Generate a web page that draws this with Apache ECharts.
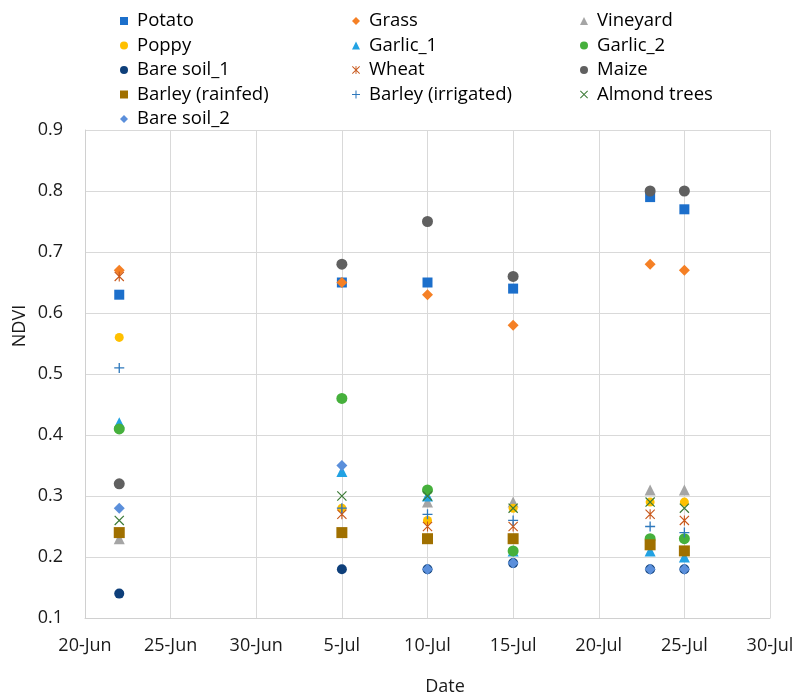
<!DOCTYPE html>
<html>
<head>
<meta charset="utf-8">
<script src="https://cdn.jsdelivr.net/npm/echarts@6/dist/echarts.min.js"></script>
<style>
  html, body { margin: 0; padding: 0; background: #fff; }
  #chart { width: 798px; height: 697px; }
</style>
</head>
<body>
<div id="chart"></div>
<script>
// Acquisition dates (day-month) and x-axis tick labels
const dates = ['22-Jun', '5-Jul', '10-Jul', '15-Jul', '23-Jul', '25-Jul'];
const xTickLabels = ['20-Jun', '25-Jun', '30-Jun', '5-Jul', '10-Jul', '15-Jul', '20-Jul', '25-Jul', '30-Jul'];
const yTickLabels = ['0.1', '0.2', '0.3', '0.4', '0.5', '0.6', '0.7', '0.8', '0.9'];

// NDVI per land cover class, one value per acquisition date
const potato          = [0.63, 0.65, 0.65, 0.64, 0.79, 0.77];
const grass           = [0.67, 0.65, 0.63, 0.58, 0.68, 0.67];
const vineyard        = [0.23, null, 0.29, 0.29, 0.31, 0.31];
const poppy           = [0.56, 0.28, 0.26, 0.28, 0.29, 0.29];
const garlic1         = [0.42, 0.34, 0.30, 0.21, 0.21, 0.20];
const garlic2         = [0.41, 0.46, 0.31, 0.21, 0.23, 0.23];
const bareSoil1       = [0.14, 0.18, 0.18, 0.19, 0.18, 0.18];
const wheat           = [0.66, 0.27, 0.25, 0.25, 0.27, 0.26];
const maize           = [0.32, 0.68, 0.75, 0.66, 0.80, 0.80];
const barleyRainfed   = [0.24, 0.24, 0.23, 0.23, 0.22, 0.21];
const barleyIrrigated = [0.51, 0.28, 0.27, 0.26, 0.25, 0.24];
const almondTrees     = [0.26, 0.30, 0.30, 0.28, 0.29, 0.28];
const bareSoil2       = [0.28, 0.35, 0.18, 0.19, 0.18, 0.18];

// Marker glyphs drawn as filled outlines
const PLUS = 'path://M4.35,0H5.65V4.35H10V5.65H5.65V10H4.35V5.65H0V4.35H4.35Z';
const CROSS = 'path://M0,0.85L0.85,0L10,9.15L9.15,10Z M0.85,10L0,9.15L9.15,0L10,0.85Z';
const STAR = 'path://M0,0.8L0.8,0L10,9.2L9.2,10Z M0.8,10L0,9.2L9.2,0L10,0.8Z M4.45,0H5.55V10H4.45Z';

const classes = [
  { name: 'Potato',             values: potato,          color: '#1C6FCB', symbol: 'rect',     size: 10 },
  { name: 'Grass',              values: grass,           color: '#F58025', symbol: 'diamond',  size: 11 },
  { name: 'Vineyard',           values: vineyard,        color: '#A5A5A5', symbol: 'triangle', size: 11 },
  { name: 'Poppy',              values: poppy,           color: '#FFC000', symbol: 'circle',   size: 9 },
  { name: 'Garlic_1',           values: garlic1,         color: '#22A2E3', symbol: 'triangle', size: 11 },
  { name: 'Garlic_2',           values: garlic2,         color: '#46B03C', symbol: 'circle',   size: 11 },
  { name: 'Bare soil_1',        values: bareSoil1,       color: '#0E3F7A', symbol: 'circle',   size: 10 },
  { name: 'Wheat',              values: wheat,           color: '#C8571A', symbol: STAR,       size: 10 },
  { name: 'Maize',              values: maize,           color: '#606060', symbol: 'circle',   size: 11 },
  { name: 'Barley (rainfed)',   values: barleyRainfed,   color: '#A07000', symbol: 'rect',     size: 11 },
  { name: 'Barley (irrigated)', values: barleyIrrigated, color: '#2E78BC', symbol: PLUS,       size: 10 },
  { name: 'Almond trees',       values: almondTrees,     color: '#3B7A36', symbol: CROSS,      size: 10 },
  { name: 'Bare soil_2',        values: bareSoil2,       color: '#5B8FDB', symbol: 'diamond',  size: 11 }
];

// Day offset from 20-Jun for a "d-Mon" string
const MONTH_START = { Jun: 0, Jul: 30 };
function dayOffset(label) {
  const [d, m] = label.split('-');
  return MONTH_START[m] + Number(d) - 20;
}

const series = classes.map(c => ({
  name: c.name,
  type: 'scatter',
  symbol: c.symbol,
  symbolSize: c.size,
  itemStyle: { color: c.color, opacity: 1 },
  emphasis: { disabled: true },
  data: dates.map((d, i) => [dayOffset(d), c.values[i]]).filter(p => p[1] !== null)
}));

const legendText = { color: '#000', fontFamily: 'Open Sans', fontSize: 18.5, lineHeight: 20, padding: [0, 0, 0, 4] };
function legendColumn(names, left) {
  return {
    orient: 'vertical',
    left: left,
    top: 6,
    itemWidth: 8,
    itemHeight: 8,
    itemGap: 4.5,
    symbolKeepAspect: true,
    selectedMode: false,
    textStyle: legendText,
    data: names
  };
}

const chart = echarts.init(document.getElementById('chart'), null, { renderer: 'canvas' });
chart.setOption({
  backgroundColor: '#fff',
  animation: false,
  legend: [
    legendColumn(['Potato', 'Poppy', 'Bare soil_1', 'Barley (rainfed)', 'Bare soil_2'], 115),
    legendColumn(['Grass', 'Garlic_1', 'Wheat', 'Barley (irrigated)'], 347),
    legendColumn(['Vineyard', 'Garlic_2', 'Maize', 'Almond trees'], 575)
  ],
  grid: { left: 85, right: 28, top: 130, bottom: 79, containLabel: false },
  xAxis: {
    type: 'value',
    min: 0,
    max: 40,
    interval: 5,
    axisLine: { show: true, lineStyle: { color: '#D0D0D0', width: 1 } },
    axisTick: { show: false },
    splitLine: { show: true, lineStyle: { color: '#D9D9D9', width: 1 } },
    axisLabel: {
      color: '#1a1a1a',
      fontFamily: 'Open Sans',
      fontSize: 18,
      margin: 19,
      showMinLabel: true,
      showMaxLabel: true,
      formatter: v => xTickLabels[Math.round(v / 5)]
    }
  },
  yAxis: {
    type: 'value',
    min: 0.1,
    max: 0.9,
    interval: 0.1,
    axisLine: { show: true, lineStyle: { color: '#D0D0D0', width: 1 } },
    axisTick: { show: false },
    splitLine: { show: true, lineStyle: { color: '#D9D9D9', width: 1 } },
    axisLabel: {
      color: '#1a1a1a',
      fontFamily: 'Open Sans',
      fontSize: 18,
      margin: 22,
      formatter: v => yTickLabels[Math.round(v * 10) - 1]
    }
  },
  graphic: [
    {
      type: 'text',
      x: 20, y: 326,
      rotation: Math.PI / 2,
      style: {
        text: 'NDVI', fill: '#1a1a1a', font: '18px "Open Sans"',
        align: 'center', verticalAlign: 'middle'
      }
    },
    {
      type: 'text',
      x: 445, y: 687,
      style: {
        text: 'Date', fill: '#1a1a1a', font: '18px "Open Sans"',
        align: 'center', verticalAlign: 'middle'
      }
    }
  ],
  series: series
});
</script>
</body>
</html>
